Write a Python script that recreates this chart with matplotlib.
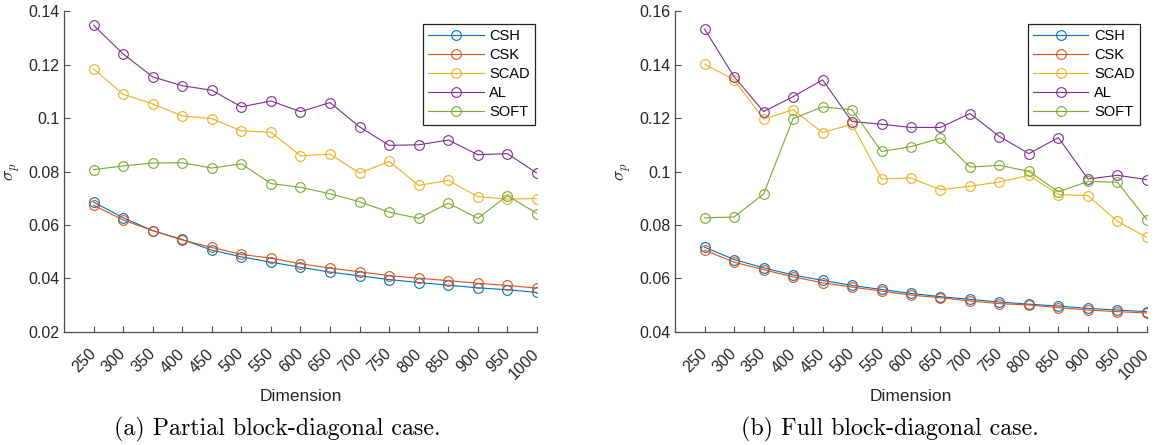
import numpy as np
import matplotlib
matplotlib.use("Agg")
import matplotlib.pyplot as plt
import matplotlib.transforms as mtransforms
from matplotlib.ticker import FuncFormatter

plt.rcParams['font.family'] = ['Liberation Sans', 'DejaVu Sans']
plt.rcParams['mathtext.fontset'] = 'cm'

# Dimensions (x axis)
dims = [250, 300, 350, 400, 450, 500, 550, 600, 650, 700, 750, 800, 850, 900, 950, 1000]
methods = ['CSH', 'CSK', 'SCAD', 'AL', 'SOFT']
colors = ['#0072BD', '#D95319', '#EDB120', '#7E2F8E', '#77AC30']

# (a) partial block-diagonal case
csh_a = [0.0686, 0.0627, 0.0579, 0.0546, 0.0506, 0.0481, 0.0461, 0.0442,
         0.0424, 0.0410, 0.0396, 0.0385, 0.0375, 0.0365, 0.0358, 0.0348]
csk_a = [0.0674, 0.0619, 0.0579, 0.0544, 0.0516, 0.0490, 0.0476, 0.0455,
         0.0439, 0.0425, 0.0411, 0.0401, 0.0392, 0.0382, 0.0374, 0.0364]
scad_a = [0.1184, 0.1089, 0.1053, 0.1008, 0.0998, 0.0952, 0.0947, 0.0859,
          0.0865, 0.0794, 0.0838, 0.0748, 0.0767, 0.0706, 0.0697, 0.0699]
al_a = [0.1347, 0.1240, 0.1154, 0.1121, 0.1104, 0.1042, 0.1064, 0.1024,
        0.1058, 0.0967, 0.0898, 0.0900, 0.0918, 0.0863, 0.0867, 0.0794]
soft_a = [0.0807, 0.0821, 0.0832, 0.0833, 0.0813, 0.0829, 0.0755, 0.0741,
          0.0717, 0.0687, 0.0648, 0.0625, 0.0682, 0.0625, 0.0710, 0.0643]

# (b) full block-diagonal case
csh_b = [0.0717, 0.0671, 0.0640, 0.0613, 0.0593, 0.0574, 0.0559, 0.0544,
         0.0532, 0.0522, 0.0512, 0.0504, 0.0497, 0.0488, 0.0482, 0.0476]
csk_b = [0.0706, 0.0661, 0.0633, 0.0606, 0.0584, 0.0568, 0.0553, 0.0538,
         0.0528, 0.0516, 0.0506, 0.0501, 0.0491, 0.0482, 0.0476, 0.0471]
scad_b = [0.1402, 0.1343, 0.1196, 0.1231, 0.1146, 0.1177, 0.0972, 0.0976,
          0.0932, 0.0945, 0.0961, 0.0986, 0.0914, 0.0910, 0.0814, 0.0754]
al_b = [0.1533, 0.1355, 0.1224, 0.1280, 0.1343, 0.1187, 0.1177, 0.1165,
        0.1165, 0.1217, 0.1131, 0.1067, 0.1127, 0.0972, 0.0986, 0.0970]
soft_b = [0.0827, 0.0830, 0.0916, 0.1198, 0.1242, 0.1231, 0.1075, 0.1093,
          0.1125, 0.1017, 0.1023, 0.1001, 0.0924, 0.0963, 0.0960, 0.0820]

fig = plt.figure(figsize=(11.62, 4.45), dpi=100)
ax_a = fig.add_axes([0.0551, 0.254, 0.407, 0.721])
ax_b = fig.add_axes([0.581, 0.254, 0.406, 0.721])

panels = [
    (ax_a, [csh_a, csk_a, scad_a, al_a, soft_a], (0.02, 0.14), 0.996,
     0.239, '(a) Partial block-diagonal case.'),
    (ax_b, [csh_b, csk_b, scad_b, al_b, soft_b], (0.04, 0.16), 0.985,
     0.766, '(b) Full block-diagonal case.'),
]

# small shift so rotated tick labels sit like the original
shift = mtransforms.ScaledTranslation(4 / 100, 0, fig.dpi_scale_trans)

for ax, series, ylim, leg_x, cap_x, caption in panels:
    for name, vals, c in zip(methods, series, colors):
        ax.plot(dims, vals, '-o', color=c, lw=0.8, ms=7, mfc='none',
                mew=0.8, label=name)
    ax.set_xlim(200, 1000)
    ax.set_ylim(*ylim)
    ax.set_xticks(dims)
    ax.set_xticklabels([str(d) for d in dims], rotation=45, ha='right',
                       va='center', rotation_mode='anchor')
    for lab in ax.get_xticklabels():
        lab.set_transform(lab.get_transform() + shift)
    ax.set_yticks(np.arange(ylim[0], ylim[1] + 1e-9, 0.02))
    ax.yaxis.set_major_formatter(FuncFormatter(lambda v, p: '{:g}'.format(round(v, 3))))
    for s in ['top', 'right']:
        ax.spines[s].set_visible(False)
    for s in ['left', 'bottom']:
        ax.spines[s].set_color('#4d4d4d')
        ax.spines[s].set_linewidth(0.9)
    ax.tick_params(direction='in', length=4, width=0.8, color='#4d4d4d',
                   labelsize=11.5, labelcolor='#262626')
    ax.tick_params(axis='x', pad=14)
    ax.set_xlabel('Dimension', fontsize=12.5, color='#262626', labelpad=5)
    ax.set_ylabel(r'$\sigma_p$', fontsize=13, color='#262626', labelpad=4)
    leg = ax.legend(loc='upper right', bbox_to_anchor=(leg_x, 0.96),
                    borderaxespad=0, fontsize=10.5, handlelength=3.8,
                    handletextpad=0.4, labelspacing=0.35, borderpad=0.35,
                    fancybox=False, framealpha=1, edgecolor='#222222')
    leg.get_frame().set_linewidth(0.9)
    fig.text(cap_x, 0.035, caption, ha='center', va='center',
             fontfamily='cmr10', fontsize=17.2)

fig.savefig('out.png', dpi=100)
